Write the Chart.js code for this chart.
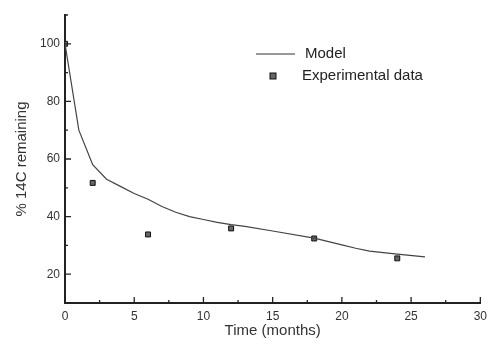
<!DOCTYPE html>
<html>
<head>
<meta charset="utf-8">
<script src="https://cdn.jsdelivr.net/npm/chart.js@4"></script>
<style>
  html, body { margin: 0; padding: 0; background: #fff; }
  #wrap { width: 493px; height: 346px; }
</style>
</head>
<body>
<div id="wrap"><canvas id="chart" width="493" height="346"></canvas></div>
<script>
// model curve (months, % remaining)
const modelX = [0, 1, 2, 3, 4, 5, 6, 7, 8, 9, 10, 11, 12, 13, 15, 18, 20, 21, 22, 24, 26];
const modelY = [100, 70, 58, 53, 50.5, 48, 46, 43.5, 41.5, 40, 39, 38, 37.2, 36.6, 35, 32.5, 30.2, 29, 28, 27, 26];

// experimental points
const expX = [0, 2, 6, 12, 18, 24];
const expY = [100, 51.7, 33.8, 35.9, 32.4, 25.5];

// axis ticks
const xTicks = [0, 5, 10, 15, 20, 25, 30];
const xMinor = [2.5, 7.5, 12.5, 17.5, 22.5, 27.5];
const yTicks = [20, 40, 60, 80, 100];
const yMinor = [10, 30, 50, 70, 90, 110];

const FONT = '"Liberation Sans", Arial, Helvetica, sans-serif';
const INK = '#333';

// inward tick marks + legend drawn on top
const extras = {
  id: 'extras',
  afterDraw(chart) {
    const ctx = chart.ctx;
    const x = chart.scales.x, y = chart.scales.y;
    const x0 = x.getPixelForValue(0);
    const yb = y.getPixelForValue(10);
    ctx.save();
    ctx.strokeStyle = '#222';
    ctx.lineWidth = 1.3;
    ctx.beginPath();
    yTicks.forEach(v => { const p = y.getPixelForValue(v); ctx.moveTo(x0, p); ctx.lineTo(x0 + 6, p); });
    yMinor.forEach(v => { const p = y.getPixelForValue(v); ctx.moveTo(x0, p); ctx.lineTo(x0 + 3, p); });
    xTicks.forEach(v => { const p = x.getPixelForValue(v); ctx.moveTo(p, yb); ctx.lineTo(p, yb - 6); });
    xMinor.forEach(v => { const p = x.getPixelForValue(v); ctx.moveTo(p, yb); ctx.lineTo(p, yb - 3); });
    ctx.stroke();

    // legend
    ctx.strokeStyle = '#333';
    ctx.lineWidth = 1;
    ctx.beginPath();
    ctx.moveTo(256, 54);
    ctx.lineTo(295, 54);
    ctx.stroke();
    ctx.fillStyle = '#666';
    ctx.strokeStyle = '#111';
    ctx.fillRect(270, 73, 6, 6);
    ctx.strokeRect(270, 73, 6, 6);
    ctx.fillStyle = '#222';
    ctx.font = '15px ' + FONT;
    ctx.textBaseline = 'middle';
    ctx.textAlign = 'left';
    ctx.fillText('Model', 305, 54);
    ctx.fillText('Experimental data', 302, 76);
    ctx.restore();
  }
};

new Chart(document.getElementById('chart'), {
  type: 'scatter',
  data: {
    datasets: [
      {
        label: 'Model',
        type: 'line',
        data: modelX.map((v, i) => ({ x: v, y: modelY[i] })),
        borderColor: '#444',
        borderWidth: 1.2,
        pointRadius: 0,
        tension: 0,
        fill: false
      },
      {
        label: 'Experimental data',
        data: expX.map((v, i) => ({ x: v, y: expY[i] })),
        pointStyle: 'rect',
        pointRadius: 3.5,
        backgroundColor: '#666',
        borderColor: '#111',
        borderWidth: 1
      }
    ]
  },
  options: {
    responsive: false,
    animation: false,
    layout: { padding: { top: 15, right: 8, left: 0, bottom: 0 } },
    plugins: {
      legend: { display: false },
      tooltip: { enabled: false }
    },
    scales: {
      x: {
        type: 'linear',
        min: 0,
        max: 30,
        afterBuildTicks: s => { s.ticks = xTicks.map(v => ({ value: v })); },
        afterFit: s => { s.height = 43; },
        grid: { display: false, tickLength: 0 },
        border: { display: true, color: '#222', width: 2 },
        ticks: { color: INK, padding: 6, font: { size: 12, family: FONT } },
        title: { display: true, text: 'Time (months)', color: INK, font: { size: 15, family: FONT }, padding: { top: 0, bottom: 6 } }
      },
      y: {
        type: 'linear',
        min: 10,
        max: 110,
        afterBuildTicks: s => { s.ticks = yTicks.map(v => ({ value: v })); },
        afterFit: s => { s.width = 65; },
        grid: { display: false, tickLength: 0 },
        border: { display: true, color: '#222', width: 2 },
        ticks: { color: INK, padding: 5, font: { size: 12, family: FONT } },
        title: { display: true, text: '% 14C remaining', color: INK, font: { size: 15, family: FONT }, padding: { top: 13, bottom: 0 } }
      }
    }
  },
  plugins: [extras]
});
</script>
</body>
</html>
